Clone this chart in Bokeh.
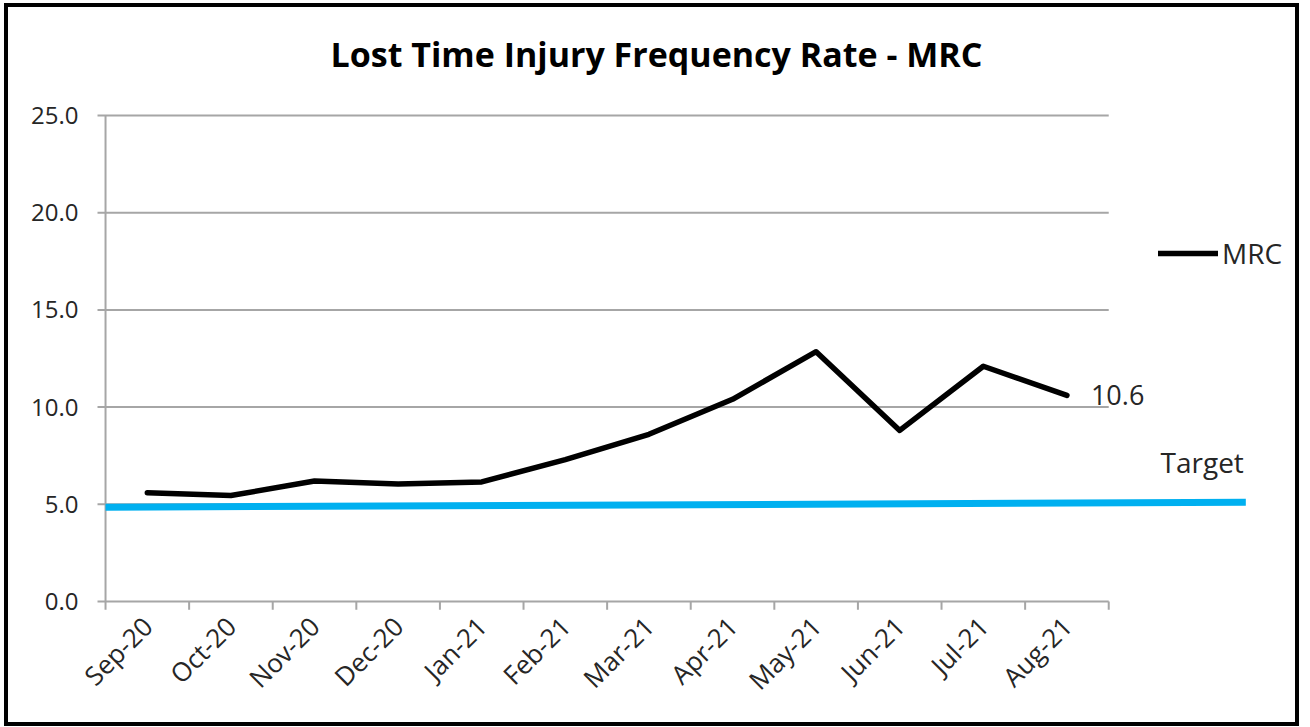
from bokeh.plotting import figure
from bokeh.models import (Range1d, FixedTicker, LinearAxis, Legend, LegendItem,
                          Label, CustomJSTickFormatter)
from bokeh.embed import file_html
from bokeh.resources import INLINE
from bokeh.core.properties import value
import math

# ---- data ----
months = ["Sep-20", "Oct-20", "Nov-20", "Dec-20", "Jan-21", "Feb-21",
          "Mar-21", "Apr-21", "May-21", "Jun-21", "Jul-21", "Aug-21"]
mrc = [5.6, 5.45, 6.2, 6.05, 6.15, 7.3, 8.6, 10.4, 12.85, 8.8, 12.1, 10.6]
target_start = 4.85
target_end = 5.1
y_ticks = [0, 5, 10, 15, 20, 25]
title_text = "Lost Time Injury Frequency Rate - MRC"

FONT = "Open Sans"
TXT = "#262626"
GRID = "#A6A6A6"

n = len(months)
xc = [i + 0.5 for i in range(n)]

p = figure(width=1295, height=723, output_backend="svg", toolbar_location=None,
           x_range=Range1d(-0.12, 14.27), y_range=Range1d(-0.514, 30.4),
           min_border_left=87, min_border_right=5, min_border_top=3, min_border_bottom=119,
           x_axis_type=None, y_axis_type=None)
p.xgrid.visible = False
p.ygrid.visible = False
p.outline_line_color = None
p.styles = {"border": "4px solid black", "margin-left": "4px", "margin-top": "3px"}

# y axis labels only
yax = LinearAxis(ticker=FixedTicker(ticks=y_ticks))
yax.formatter = CustomJSTickFormatter(code="return tick.toFixed(1);")
yax.axis_line_color = None
yax.major_tick_line_color = None
yax.minor_tick_line_color = None
yax.major_label_standoff = 11
yax.major_label_text_font = FONT
yax.major_label_text_font_size = "24px"
yax.major_label_text_color = TXT
p.add_layout(yax, "left")

# x axis labels only
xax = LinearAxis(ticker=FixedTicker(ticks=xc))
xax.major_label_overrides = {x: m for x, m in zip(xc, months)}
xax.axis_line_color = None
xax.major_tick_line_color = None
xax.minor_tick_line_color = None
xax.major_label_orientation = math.pi / 4
xax.major_label_standoff = 4
xax.major_label_text_font = FONT
xax.major_label_text_font_size = "26px"
xax.major_label_text_color = TXT
p.add_layout(xax, "below")

# gridlines (from tick mark to end of category axis)
gy = y_ticks[1:]
p.segment(x0=[-0.096] * len(gy), x1=[n] * len(gy), y0=gy, y1=gy,
          line_color=GRID, line_width=2)
# zero line + tick at 0
p.segment(x0=[-0.096], x1=[n], y0=[0], y1=[0], line_color=GRID, line_width=2)
# y axis line
p.segment(x0=[0], x1=[0], y0=[-0.43], y1=[y_ticks[-1]], line_color=GRID, line_width=2)
# x ticks at category boundaries
bx = list(range(1, n + 1))
p.segment(x0=bx, x1=bx, y0=[0] * n, y1=[-0.43] * n, line_color=GRID, line_width=2)

# target line
tx_end = 13.64
p.line(x=[0, tx_end], y=[target_start, target_end], line_color="#00B0F0", line_width=7)
p.text(x=[tx_end], y=[target_end], text=["Target"], text_align="right",
       text_baseline="alphabetic", y_offset=-40, x_offset=-2,
       text_font=value(FONT), text_font_size="28px", text_color=TXT)

# MRC line
r = p.line(x=xc, y=mrc, line_color="black", line_width=5.5, line_join="round", line_cap="round")

# last value label
p.text(x=[xc[-1]], y=[mrc[-1]], text=[f"{mrc[-1]:.1f}"], x_offset=24,
       text_baseline="middle", text_font=value(FONT), text_font_size="27px", text_color=TXT)

# title
p.add_layout(Label(x=6.59, y=28.17, text=title_text, text_align="center",
                   text_baseline="alphabetic", text_font=FONT, text_font_style="bold",
                   text_font_size="34px", text_color="black"))

legend = Legend(items=[LegendItem(label="MRC", renderers=[r])],
                location=(1063, 339), glyph_width=60, glyph_height=28,
                label_height=28, label_standoff=4, padding=0, margin=0, spacing=0,
                border_line_color=None, background_fill_alpha=0,
                label_text_font=FONT, label_text_font_size="28px", label_text_color=TXT)
p.add_layout(legend)

open("out.html", "w").write(file_html(p, INLINE))
